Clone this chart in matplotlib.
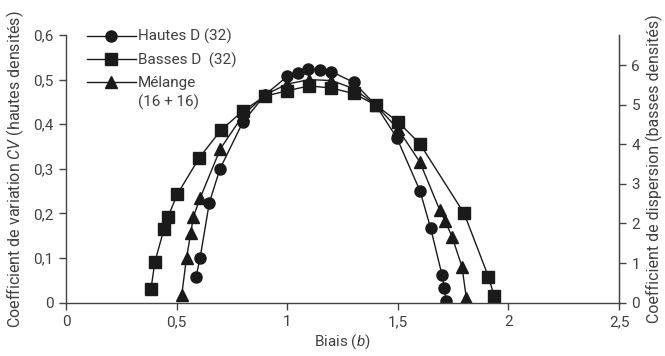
import matplotlib
matplotlib.use("Agg")
import matplotlib.pyplot as plt

plt.rcParams['font.family'] = ['Roboto', 'DejaVu Sans']
plt.rcParams['mathtext.fontset'] = 'custom'
plt.rcParams['mathtext.rm'] = 'Roboto'
plt.rcParams['mathtext.it'] = 'Roboto:italic'

# Data
hautes_x = [0.588, 0.606, 0.648, 0.696, 0.80, 0.90, 1.0, 1.047, 1.095, 1.148, 1.20, 1.30, 1.40, 1.495, 1.60, 1.648, 1.70, 1.71, 1.718]
hautes_y = [0.058, 0.100, 0.224, 0.300, 0.405, 0.466, 0.507, 0.514, 0.524, 0.522, 0.518, 0.494, 0.443, 0.370, 0.251, 0.168, 0.062, 0.032, 0.004]

basses_x = [0.384, 0.402, 0.443, 0.460, 0.503, 0.603, 0.699, 0.80, 0.90, 1.0, 1.10, 1.20, 1.30, 1.40, 1.50, 1.60, 1.80, 1.91, 1.935]
basses_y = [0.030, 0.092, 0.165, 0.191, 0.243, 0.325, 0.386, 0.430, 0.463, 0.475, 0.486, 0.481, 0.469, 0.443, 0.406, 0.356, 0.200, 0.058, 0.016]

melange_x = [0.523, 0.545, 0.564, 0.576, 0.606, 0.698, 0.80, 0.90, 1.0, 1.10, 1.20, 1.30, 1.40, 1.50, 1.60, 1.69, 1.715, 1.745, 1.79, 1.81]
melange_y = [0.017, 0.101, 0.156, 0.193, 0.234, 0.345, 0.420, 0.466, 0.490, 0.500, 0.498, 0.480, 0.443, 0.390, 0.315, 0.207, 0.182, 0.148, 0.081, 0.010]

series_labels = ['Hautes D (32)', 'Basses D  (32)', 'Mélange']
melange_note = '(16 + 16)'

x_ticks = [0, 0.5, 1, 1.5, 2, 2.5]
x_ticklabels = ['0', '0,5', '1', '1,5', '2', '2,5']
y_ticks = [0, 0.1, 0.2, 0.3, 0.4, 0.5, 0.6]
y_ticklabels = ['0', '0,1', '0,2', '0,3', '0,4', '0,5', '0,6']
y2_ticks = [0, 1, 2, 3, 4, 5, 6]
y2_ticklabels = ['0', '1', '2', '3', '4', '5', '6']

TXT = '#404040'
INK = '#1a1a1a'
FS = 11

fig = plt.figure(figsize=(6.65, 3.56), dpi=100)
ax = fig.add_axes([66/665, 1 - 302.7/356, (619-66)/665, (302.7-35)/356])

common = dict(color=INK, lw=1.0, markersize=8, markerfacecolor=INK, markeredgecolor=INK)
l1, = ax.plot(hautes_x, hautes_y, marker='o', label=series_labels[0], **common)
l2, = ax.plot(basses_x, basses_y, marker='s', label=series_labels[1], **common)
l3, = ax.plot(melange_x, melange_y, marker='^', label=series_labels[2], **common)

ax.set_xlim(0, 2.5)
ax.set_ylim(0, 0.6)
ax.set_xticks(x_ticks)
ax.set_xticklabels(x_ticklabels)
ax.set_yticks(y_ticks)
ax.set_yticklabels(y_ticklabels)
ax.spines['top'].set_visible(False)
for s in ['left', 'bottom', 'right']:
    ax.spines[s].set_color('#444444')
    ax.spines[s].set_linewidth(1.0)
ax.tick_params(direction='out', length=5, width=1.0, color='#444444', labelcolor=TXT, labelsize=FS, pad=4)
ax.set_xlabel('Biais ($\\it{b}$)', fontsize=FS, color=TXT, labelpad=2)
ax.set_ylabel('Coefficient de variation $\\it{CV}$ (hautes densités)', fontsize=11.5, color=TXT, labelpad=5)

ax2 = ax.twinx()
ax2.set_ylim(0, 6.76)
ax2.set_yticks(y2_ticks)
ax2.set_yticklabels(y2_ticklabels)
ax2.spines['top'].set_visible(False)
ax2.spines['left'].set_visible(False)
ax2.spines['bottom'].set_visible(False)
ax2.spines['right'].set_color('#444444')
ax2.tick_params(direction='out', length=5, width=1.0, color='#444444', labelcolor=TXT, labelsize=FS, pad=4)
ax2.set_ylabel('Coefficient de dispersion (basses densités)', fontsize=11.5, color=TXT, labelpad=4)

leg = ax.legend(handles=[l1, l2, l3], loc='upper left', bbox_to_anchor=(87/665, 1 - 29/356),
                bbox_transform=fig.transFigure, frameon=False, fontsize=FS,
                handlelength=3.2, handletextpad=0.15, labelspacing=0.55, borderaxespad=0,
                borderpad=0, labelcolor=TXT)

fig.canvas.draw()
bb = leg.get_texts()[2].get_window_extent()
inv = fig.transFigure.inverted()
x0, y0 = inv.transform((bb.x0, bb.y0))
fig.text(x0, y0 - 4/356, melange_note, fontsize=FS, color=TXT, ha='left', va='top')

fig.savefig('out.png', dpi=100)
